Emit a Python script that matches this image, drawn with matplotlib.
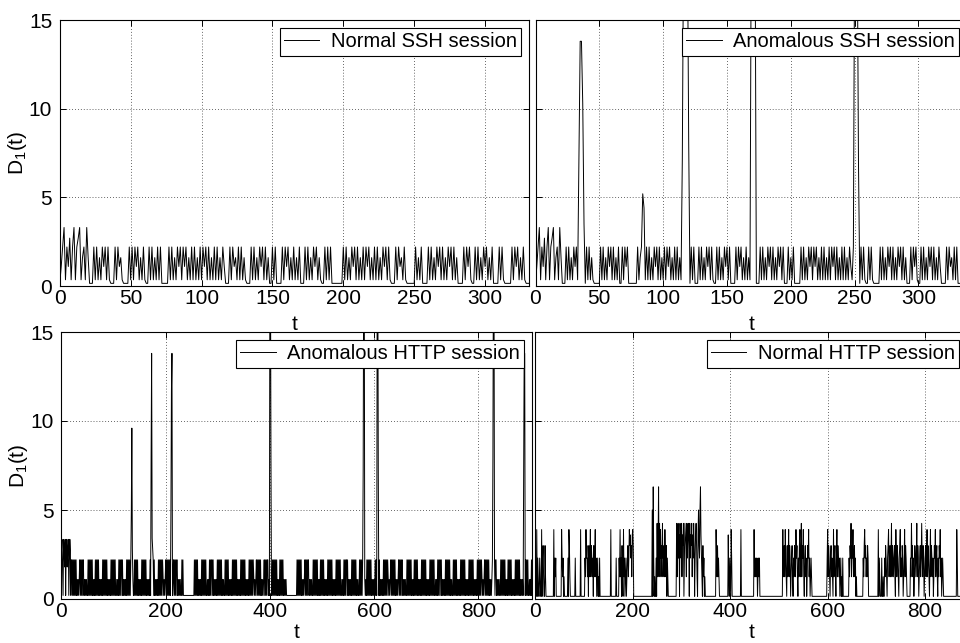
import numpy as np
import matplotlib
matplotlib.use('Agg')
import matplotlib.pyplot as plt

plt.rcParams['font.family'] = ['Liberation Sans', 'DejaVu Sans']
plt.rcParams['mathtext.fontset'] = 'custom'
plt.rcParams['mathtext.rm'] = 'Liberation Sans'

ssh_levels = {'0': 0.15, '1': 0.35, '2': 1.1, '3': 1.6, '4': 2.2, '5': 2.7, '6': 3.3}

ssh_normal_codes = (
    '0' '24614251461456134163' '000' '414131424141' '000' '414231' '0000'
    '414142413141' '00' '414131414' '00000'
    '4141314241424131414131414241413141413142' '000' '414231414131' '000'
    '4141314241413' '00' '414' '0000' '4142413141314' '000' '414131424131'
    '00' '41414' '00000000' '4141314241413141424131414131424141' '000'
    '41423141' '000000' '41314' '0000' '414131424141314241413' '0000'
    '414241' '00' '4141314241314' '0000' '4141' '00000' '4142413141' '000'
)

ssh_anom_codes = (
    '0' '24614251461456134163' '000' '4141314241' '444440' '414131' '00000'
    '414131424141314' '00' '41424' '0000000' '4134' '441'
    '4141314241413141424131414131' '4444440' '414' '000' '414131424141' '00'
    '41413142414' '0000' '414241314131' '44440' '00' '4141314241413142414'
    '000' '41314' '00000' '4141314241424131414131414241413141413142'
    '1444440' '4141004141' '00000' '414131424141314241413' '000' '414241'
    '00' '4141314241413142' '0000' '414231414' '000'
)
ssh_anom_spike_t = [34, 35, 36, 37, 38, 84, 85, 115, 116, 117, 118, 119, 120,
                    169, 170, 171, 172, 250, 251, 252, 253]
ssh_anom_spike_v = [7.0, 13.8, 13.8, 10.3, 3.5, 5.2, 4.4, 7.1, 20, 20, 20, 20, 8.1,
                    20, 20, 20, 20, 20, 20, 20, 6.9]

http_anom_levels = {'0': 0.2, '2': 1.1, '3': 1.8, '4': 2.2, '5': 2.75, '6': 3.35}
http_anom_codes = (
    '56306536056356036504'
    '404040404020202404040440202020040404040402020404040402020204'
    '040404040202020404040404002020404044040202020404040404020200'
    '404040402020204040404040202020404040404020202040404040420202'
    '4040404040202024040404402020200404'
    '00000000000000000000'
    '040404040202020404040404002020404044040202020404040404020200'
    '404040402020204040404040202020404040404020202040404040420202'
    '40404040402020240404044020202004040404040202040404040202020'
    '0000000000000000000'
    '404040404020202404040440202020040404040402020404040402020204'
    '040404040202020404040404002020404044040202020404040404020200'
    '404040402020204040404040202020404040404020202040404040420202'
    '404040404020202404040440202020040404040402020404040402020204'
    '040404040202020404040404002020404044040202020404040404020200'
    '404040402020204040404040202020404040404020202040404040420202'
    '404040404020202404040440202020040404040402020404040402020204'
    '04040404020202040404040400202040'
)
http_anom_spike_t = [134, 135, 136, 172, 173, 174, 175, 210, 211, 212,
                     400, 401, 402, 579, 580, 581, 606, 607, 608,
                     828, 829, 830, 887, 888, 889]
http_anom_spike_v = [4.9, 9.6, 2.8, 8.0, 13.8, 3.4, 2.8, 4.9, 11.7, 13.8,
                     20, 20, 8.0, 7.2, 20, 20, 20, 20, 7.0,
                     8.0, 20, 20, 7.0, 13.8, 13.8]

http_norm_levels = {'0': 0.15, '1': 1.25, '2': 2.3, '3': 3.0, '4': 3.6,
                    '5': 3.9, '6': 4.25, '7': 5.0, '8': 6.3}
http_norm_len = 887
http_norm_burst_t = [0, 37, 53, 81, 92, 101, 154, 165, 171, 239, 289, 370,
                     395, 421, 448, 507, 597, 643, 703, 769, 864]
http_norm_burst_codes = [
    '21050210021005023100310',
    '0502120',
    '05212010000000205310',
    '020',
    '050',
    '021523120312513212031251201201020',
    '050',
    '020',
    '02151203105120120123125342314530',
    '07082010020613816251326123152130210',
    '0613624063261436026431624630624361426302463104732784210312010',
    '0521312100',
    '0410210520',
    '050',
    '05121212012120',
    '05123152103125132012310213215231021351261325102312013251201210',
    '0025132102312105123102513212012010200',
    '0213261325123120100000000000002135231213200',
    '0502100020010021321023512312613212310521321023512132012513210',
    '02162312013212613201231262132012312513210251321201325123102132512012100',
    '0520',
]

labels = ['Normal SSH session', 'Anomalous SSH session',
          'Anomalous HTTP session', 'Normal HTTP session']


def decode(codes, levels):
    return np.array([levels[c] for c in codes], dtype=float)


ssh_norm = decode(ssh_normal_codes, ssh_levels)
ssh_anom = decode(ssh_anom_codes, ssh_levels)
ssh_anom[ssh_anom_spike_t] = ssh_anom_spike_v
http_anom = decode(http_anom_codes, http_anom_levels)
http_anom[http_anom_spike_t] = http_anom_spike_v
http_norm = np.full(http_norm_len, http_norm_levels['0'])
for t0, c in zip(http_norm_burst_t, http_norm_burst_codes):
    http_norm[t0:t0 + len(c)] = decode(c, http_norm_levels)

W, H = 960, 643
fig = plt.figure(figsize=(W / 100, H / 100), dpi=100)


def px_axes(x0, x1, y0, y1):
    return fig.add_axes([x0 / W, 1 - y1 / H, (x1 - x0) / W, (y1 - y0) / H])


# (axes, series, xmax, xticks, left column, xlabel pad)
panels = [
    (px_axes(59.8, 529, 20, 286), ssh_norm, 331, np.arange(0, 301, 50), True, 5),
    (px_axes(535.5, 967, 20, 286), ssh_anom, 338, np.arange(0, 301, 50), False, 5),
    (px_axes(61.5, 532, 332, 599), http_anom, 903, np.arange(0, 801, 200), True, 1),
    (px_axes(535.3, 967, 332, 599), http_norm, 886, np.arange(0, 801, 200), False, 1),
]

for (ax, y, xmax, xt, left, lpad), lab in zip(panels, labels):
    ax.plot(np.arange(len(y)), y, color='k', lw=0.7, label=lab)
    ax.set_xlim(0, xmax)
    ax.set_ylim(0, 15)
    ax.set_xticks(xt)
    ax.set_yticks([0, 5, 10, 15])
    ax.grid(True, linestyle=(0, (1, 2.5)), color='0.2', lw=0.6)
    ax.tick_params(direction='in', top=True, right=True, length=4, width=0.7,
                   labelsize=15)
    ax.tick_params(axis='x', pad=2.5)
    ax.tick_params(axis='y', pad=5.5)
    for s in ax.spines.values():
        s.set_linewidth(0.8)
    ax.set_xlabel('t', fontsize=15, labelpad=lpad)
    if left:
        ax.set_ylabel(r'D$_\mathrm{1}$(t)', fontsize=15, labelpad=0)
    else:
        ax.tick_params(labelleft=False)
    leg = ax.legend(loc='upper right', fontsize=14.5, fancybox=False,
                    edgecolor='k', framealpha=1, borderpad=0.2,
                    handlelength=1.75, handletextpad=0.55, borderaxespad=0.42)
    leg.get_frame().set_linewidth(0.8)

fig.savefig('out.png', dpi=100)
